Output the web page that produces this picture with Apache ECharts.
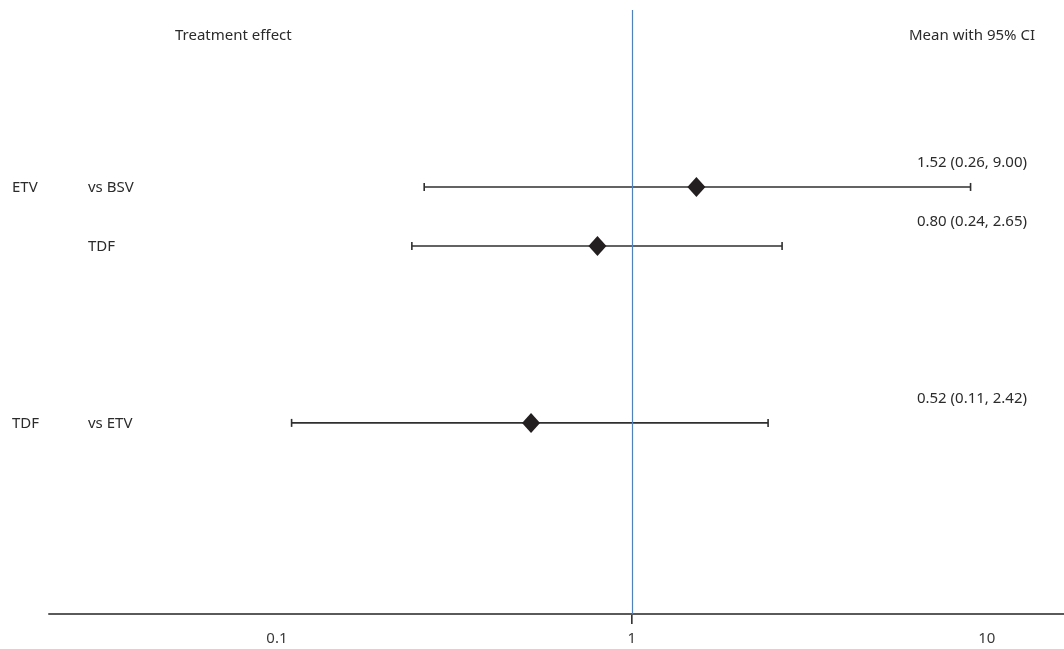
<!DOCTYPE html>
<html>
<head>
<meta charset="utf-8">
<script src="https://cdn.jsdelivr.net/npm/echarts@6/dist/echarts.min.js"></script>
<style>
html,body{margin:0;padding:0;background:#fff;}
#main{width:1064px;height:649px;}
</style>
</head>
<body>
<div id="main"></div>
<script>
// ---- data ----
const groupNames = ['ETV', '', 'TDF'];
const comparators = ['vs BSV', 'TDF', 'vs ETV'];
const rowPos = [3, 4, 7];
const means = [1.52, 0.80, 0.52];
const lowers = [0.26, 0.24, 0.11];
const uppers = [9.00, 2.65, 2.42];
const tickValues = [0.1, 1, 10];
const headerLeft = 'Treatment effect';
const headerRight = 'Mean with 95% CI';
const refValue = 1;

const FONT = 'Noto Sans';
const TXT = '#2b2b2b';

const chart = echarts.init(document.getElementById('main'), null, {renderer: 'canvas'});

const ciLabels = means.map((m, i) => m.toFixed(2) + ' (' + lowers[i].toFixed(2) + ', ' + uppers[i].toFixed(2) + ')');

const option = {
  animation: false,
  backgroundColor: '#ffffff',
  grid: {left: 49, right: 0, top: 10, bottom: 35, containLabel: false},
  xAxis: {
    type: 'log',
    logBase: 10,
    position: 'bottom',
    min: 0.0228,
    max: 16.5,
    axisLine: {show: true, onZero: false, lineStyle: {color: '#5a5a5a', width: 2}},
    axisTick: {show: false},
    splitLine: {show: false},
    axisLabel: {
      show: true,
      showMinLabel: false,
      showMaxLabel: false,
      margin: 17,
      fontFamily: FONT,
      fontSize: 15,
      color: '#3a3a3a',
      formatter: function (v) {
        for (const t of tickValues) {
          if (Math.abs(Math.log10(v) - Math.log10(t)) < 1e-6) return String(t);
        }
        return '';
      }
    }
  },
  yAxis: {
    type: 'value',
    inverse: true,
    min: 0,
    max: 10.24,
    show: false
  },
  graphic: [
    {type: 'text', left: 175, top: 28, style: {text: headerLeft, font: '15px "' + FONT + '"', fill: TXT}},
    {type: 'text', right: 29, top: 28, style: {text: headerRight, font: '15px "' + FONT + '"', fill: TXT}}
  ],
  series: [
    {
      type: 'custom',
      name: 'ci',
      coordinateSystem: 'cartesian2d',
      encode: {x: [1, 2], y: 0},
      data: rowPos.map((r, i) => [r, lowers[i], uppers[i]]),
      z: 2,
      renderItem: function (params, api) {
        const lo = api.coord([api.value(1), api.value(0)]);
        const hi = api.coord([api.value(2), api.value(0)]);
        const st = {stroke: '#2f2f2f', lineWidth: 1.6};
        return {
          type: 'group',
          children: [
            {type: 'line', shape: {x1: lo[0], y1: lo[1], x2: hi[0], y2: hi[1]}, style: st},
            {type: 'line', shape: {x1: lo[0], y1: lo[1] - 4, x2: lo[0], y2: lo[1] + 4}, style: st},
            {type: 'line', shape: {x1: hi[0], y1: hi[1] - 4, x2: hi[0], y2: hi[1] + 4}, style: st}
          ]
        };
      },
      markLine: {
        silent: true,
        symbol: 'none',
        label: {show: false},
        lineStyle: {color: '#4f81bd', width: 1.2, type: 'solid'},
        data: [{xAxis: refValue}]
      }
    },
    {
      type: 'scatter',
      name: 'mean',
      data: means.map((m, i) => [m, rowPos[i]]),
      symbol: 'diamond',
      symbolSize: [18, 20],
      itemStyle: {color: '#231f20', opacity: 1},
      z: 5
    },
    {
      type: 'custom',
      name: 'refTick',
      coordinateSystem: 'cartesian2d',
      clip: false,
      z: 10,
      data: [[refValue, 10.24]],
      renderItem: function (params, api) {
        const p = api.coord([api.value(0), api.value(1)]);
        return {type: 'line', shape: {x1: p[0], y1: p[1] + 1, x2: p[0], y2: p[1] + 10}, style: {stroke: '#111', lineWidth: 1.4}};
      }
    },
    {
      type: 'custom',
      name: 'rowLabels',
      coordinateSystem: 'cartesian2d',
      clip: false,
      data: rowPos.map((r, i) => [refValue, r, i]),
      renderItem: function (params, api) {
        const i = api.value(2);
        const p = api.coord([api.value(0), api.value(1)]);
        const cs = params.coordSys;
        const font = '15px "' + FONT + '"';
        return {
          type: 'group',
          children: [
            {type: 'text', x: cs.x - 37, y: p[1] + 1, style: {text: groupNames[i], font: font, fill: TXT, verticalAlign: 'middle', align: 'left'}},
            {type: 'text', x: cs.x + 39, y: p[1] + 1, style: {text: comparators[i], font: font, fill: TXT, verticalAlign: 'middle', align: 'left'}},
            {type: 'text', x: cs.x + cs.width - 37, y: p[1] - 24, style: {text: ciLabels[i], font: font, fill: TXT, verticalAlign: 'middle', align: 'right'}}
          ]
        };
      }
    }
  ]
};

chart.setOption(option);
</script>
</body>
</html>
